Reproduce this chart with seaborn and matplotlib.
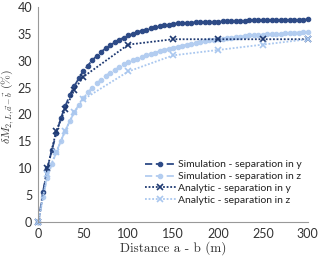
import numpy as np
import pandas as pd
import matplotlib
matplotlib.use("Agg")
import matplotlib.pyplot as plt
import seaborn as sns

sim_x = list(range(0, 305, 5))
sim_y = [0.0, 5.5, 10.0, 13.4, 16.5, 19.3, 21.6, 23.6, 25.3, 26.7,
         28.0, 29.1, 30.1, 30.9, 31.7, 32.3, 32.9, 33.4, 33.9, 34.3,
         34.7, 35.0, 35.3, 35.6, 35.8, 36.0, 36.2, 36.4, 36.6, 36.7,
         36.9, 36.95, 37.0, 37.05, 37.1, 37.15, 37.2, 37.2, 37.25, 37.3,
         37.3, 37.35, 37.35, 37.4, 37.4, 37.45, 37.45, 37.5, 37.5, 37.5,
         37.55, 37.55, 37.55, 37.6, 37.6, 37.6, 37.6, 37.65, 37.65, 37.65, 37.7]
sim_z = [0.0, 4.7, 8.2, 10.8, 13.0, 15.1, 17.0, 18.8, 20.4, 21.8,
         23.0, 24.1, 25.0, 25.8, 26.5, 27.2, 27.8, 28.3, 28.8, 29.3,
         29.7, 30.1, 30.4, 30.7, 31.0, 31.3, 31.5, 31.8, 32.0, 32.2,
         32.4, 32.6, 32.8, 33.0, 33.2, 33.3, 33.5, 33.6, 33.8, 33.9,
         34.0, 34.1, 34.2, 34.3, 34.4, 34.5, 34.6, 34.7, 34.75, 34.8,
         34.85, 34.9, 34.95, 35.0, 35.05, 35.1, 35.15, 35.2, 35.25, 35.3, 35.35]
ana_x = [0, 10, 20, 30, 40, 50, 100, 150, 200, 250, 300]
ana_y = [0.0, 10.0, 17.0, 21.0, 24.6, 27.0, 33.0, 34.0, 34.0, 34.0, 34.0]
ana_z = [0.0, 9.0, 13.0, 17.0, 20.5, 22.8, 28.0, 31.0, 32.0, 33.0, 34.0]

labels = ["Simulation - separation in y", "Simulation - separation in z",
          "Analytic - separation in y", "Analytic - separation in z"]
xticks = [0, 50, 100, 150, 200, 250, 300]
yticks = [0, 5, 10, 15, 20, 25, 30, 35, 40]

sns.set_theme(style="white")
plt.rcParams['font.family'] = ['Lato', 'DejaVu Sans']
plt.rcParams['mathtext.fontset'] = 'cm'

dark = "#2d4a86"
light = "#b3cdf0"
dark2 = "#1f3a72"
light2 = "#a9c7ef"

fig = plt.figure(figsize=(3.2, 2.59), dpi=100)
ax = fig.add_axes([0.12, 0.143, 0.842, 0.83])

common = dict(ax=ax, legend=False, clip_on=False)
sns.lineplot(x=sim_x, y=sim_y, color=dark, linestyle=(0, (4, 2)), marker="o",
             markersize=3.2, markeredgewidth=0.8, markeredgecolor=dark, lw=1.3,
             label=labels[0], **common)
sns.lineplot(x=sim_x, y=sim_z, color=light, linestyle=(0, (4, 2)), marker="o",
             markersize=3.2, markeredgewidth=0.8, markeredgecolor=light, lw=1.3,
             label=labels[1], **common)
sns.lineplot(x=ana_x, y=ana_y, color=dark2, linestyle=(0, (1, 1)), marker="x",
             markersize=5, markeredgewidth=1.2, markeredgecolor=dark2, lw=1.3,
             label=labels[2], **common)
sns.lineplot(x=ana_x, y=ana_z, color=light2, linestyle=(0, (1, 1)), marker="x",
             markersize=5, markeredgewidth=1.2, markeredgecolor=light2, lw=1.3,
             label=labels[3], **common)

ax.set_xlim(0, 300)
ax.set_ylim(0, 40)
ax.set_xticks(xticks)
ax.set_yticks(yticks)
ax.tick_params(axis='both', labelsize=9, colors="#333333", length=3,
               direction='out', width=0.6, pad=1.5)
ax.tick_params(axis='both', color="#999999")
for s in ["top", "right"]:
    ax.spines[s].set_visible(False)
for s in ["left", "bottom"]:
    ax.spines[s].set_color("#999999")
    ax.spines[s].set_linewidth(0.8)

ax.set_xlabel("Distance a - b (m)", fontsize=9.5, color="#333333", labelpad=1,
              family=["cmr10", "DejaVu Serif"])
ax.set_ylabel(r"$\delta M_{2,L,\vec{a}-\vec{b}}\ (\%)$", fontsize=8.5, color="#333333")
ax.yaxis.set_label_coords(-0.083, 0.54)

leg = ax.legend(loc="lower right", bbox_to_anchor=(1.0, 0.05), frameon=False,
                fontsize=7.5, handlelength=3.0, handletextpad=0.2,
                labelspacing=0.25, borderaxespad=0.2)
for t in leg.get_texts():
    t.set_color("#222222")

fig.savefig("out.png", dpi=100)
